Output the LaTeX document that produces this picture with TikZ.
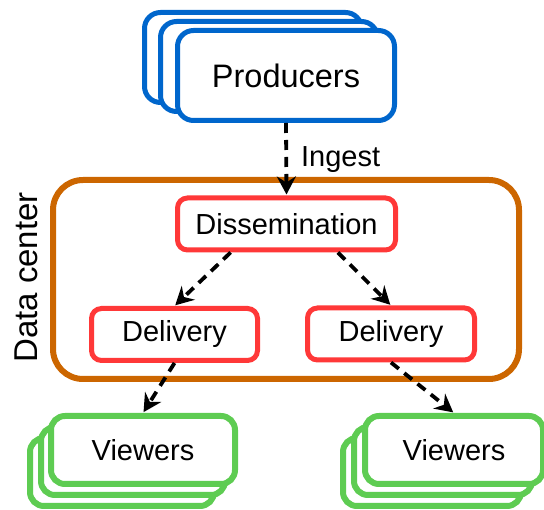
\documentclass[tikz,border=0pt]{standalone}
\usepackage{fontspec}
\setmainfont{Liberation Sans}
\usepackage{tikz}
\usetikzlibrary{arrows.meta}
\definecolor{prodblue}{HTML}{0066CC}
\definecolor{dcorange}{HTML}{CC6600}
\definecolor{stagered}{HTML}{FF3838}
\definecolor{viewgreen}{HTML}{5ECC52}
\tikzset{
    prodbox/.style={draw=prodblue,line width=5pt,fill=white,rounded corners=16pt,
        minimum width=217pt,minimum height=90pt,font=\fontsize{32.5}{38}\selectfont},
    dcbox/.style={draw=dcorange,line width=6pt,rounded corners=30pt,
        minimum width=466pt,minimum height=199pt},
    stagebox/.style={draw=stagered,line width=5pt,fill=white,rounded corners=10pt,
        minimum height=52pt,font=\fontsize{29}{34}\selectfont},
    viewbox/.style={draw=viewgreen,line width=6pt,fill=white,rounded corners=14pt,
        minimum height=68pt,font=\fontsize{29}{34}\selectfont},
    flow/.style={dashed,line width=3.8pt,dash pattern=on 10pt off 7pt,
        -{Stealth[length=18pt,width=19pt,inset=6pt]},shorten >=1pt}
}

\begin{document}
\begin{tikzpicture}[x=1pt,y=-1pt]
            \useasboundingbox (0,0) rectangle (544,510);
            \node[prodbox] (prodc) at (253,57.5) {};
            \node[prodbox] (prodb) at (269,66.5) {};
            \node[prodbox] (prod) at (286,75.5) {Producers};
            \node[dcbox] (dc) at (286,279.5) {};
            \node[rotate=90,font=\fontsize{33}{38}\selectfont] (dclabel) at (26,277.5) {Data center};
            \node[stagebox,minimum width=218pt] (diss) at (286.5,224) {Dissemination};
            \node[stagebox,minimum width=166pt] (dell) at (174.5,334.5) {Delivery};
            \node[stagebox,minimum width=167pt] (delr) at (391,334) {Delivery};
            \node[viewbox,minimum width=184pt] (viewlc) at (122,472) {};
            \node[viewbox,minimum width=184pt] (viewlb) at (133,461) {};
            \node[viewbox,minimum width=184pt] (viewl) at (143,450) {Viewers};
            \node[viewbox,minimum width=178pt] (viewrc) at (432,472) {};
            \node[viewbox,minimum width=178pt] (viewrb) at (443,461) {};
            \node[viewbox,minimum width=178pt] (viewr) at (454,450) {Viewers};
            \draw[flow] (prod.south) -- node[midway,anchor=west,inner sep=0pt,xshift=13pt,font=\fontsize{29}{34}\selectfont] (ingest) {Ingest} (diss.north);
            \draw[flow] (diss.207) -- (dell.north);
            \draw[flow] (diss.331) -- (delr.north);
            \draw[flow] (dell.south) -- (viewl.north);
            \draw[flow] (delr.south) -- (viewr.north);
        \end{tikzpicture}
\end{document}
